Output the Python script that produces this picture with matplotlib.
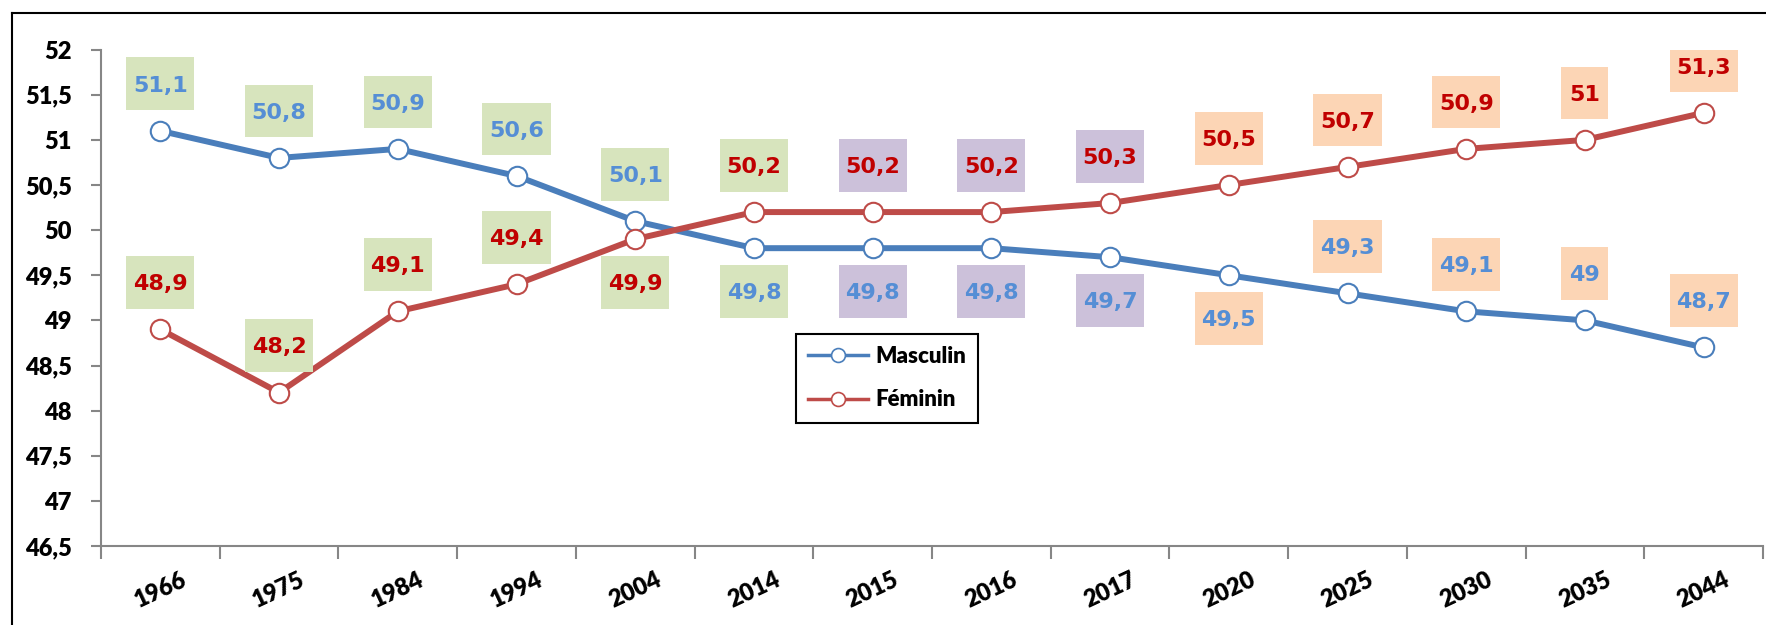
import numpy as np
import matplotlib
matplotlib.use("Agg")
import matplotlib.pyplot as plt
from matplotlib.patches import Rectangle
from matplotlib.lines import Line2D

# Data
years = ["1966", "1975", "1984", "1994", "2004", "2014", "2015",
         "2016", "2017", "2020", "2025", "2030", "2035", "2044"]
masculin = [51.1, 50.8, 50.9, 50.6, 50.1, 49.8, 49.8, 49.8, 49.7, 49.5, 49.3, 49.1, 49.0, 48.7]
feminin = [48.9, 48.2, 49.1, 49.4, 49.9, 50.2, 50.2, 50.2, 50.3, 50.5, 50.7, 50.9, 51.0, 51.3]

# Styling for the label boxes (period groups) and label placement (+1 above, -1 below)
box_colors = ["#D7E4BD"] * 6 + ["#CCC1DA"] * 3 + ["#FCD5B5"] * 5
masc_side = [1, 1, 1, 1, 1, -1, -1, -1, -1, -1, 1, 1, 1, 1]
fem_side = [1, 1, 1, 1, -1, 1, 1, 1, 1, 1, 1, 1, 1, 1]

BLUE = "#4A7EBB"
RED = "#BE4B48"
BLUE_TXT = "#558ED5"
RED_TXT = "#C00000"
TICK_FONT = "Lato"


def fmt(v):
    s = f"{v:g}"
    return s.replace(".", ",")


fig = plt.figure(figsize=(17.66, 6.25), dpi=100)
ax = fig.add_axes([0.0572, 0.1264, 0.9411, 0.7942])

x = np.arange(len(years))
ax.plot(x, masculin, color=BLUE, lw=4.3, marker="o", ms=14, mfc="white",
        mec=BLUE, mew=1.5, zorder=3, solid_capstyle="round")
ax.plot(x, feminin, color=RED, lw=4.3, marker="o", ms=14, mfc="white",
        mec=RED, mew=1.5, zorder=3, solid_capstyle="round")

# Data labels in coloured boxes
box_h = 0.586
for series, sides, tcol in [(masculin, masc_side, BLUE_TXT), (feminin, fem_side, RED_TXT)]:
    for i, (v, s) in enumerate(zip(series, sides)):
        label = fmt(v)
        w = 0.573 if "," in label else 0.396
        cy = v + (0.52 if s > 0 else -0.48)
        ax.add_patch(Rectangle((i - w / 2, cy - box_h / 2), w, box_h,
                               facecolor=box_colors[i], edgecolor="none", zorder=4))
        ax.text(i, cy - 0.02, label, ha="center", va="center", fontsize=16,
                fontweight="bold", color=tcol, family="DejaVu Sans", zorder=5)

ax.set_xlim(-0.5, len(years) - 0.5)
ax.set_ylim(46.5, 52)

yt = np.arange(46.5, 52.01, 0.5)
ax.set_yticks(yt)
ax.set_yticklabels([fmt(v) for v in yt], fontsize=17, fontweight="heavy", family=TICK_FONT)

ax.set_xticks(np.arange(len(years) + 1) - 0.5)
ax.set_xticklabels([])
ax.set_xticks(x, minor=True)
ax.set_xticklabels(years, minor=True, rotation=25, ha="center", fontsize=17,
                   fontweight="heavy", family=TICK_FONT)

ax.tick_params(axis="y", length=7, width=1.5, color="#868686", pad=14)
ax.tick_params(axis="x", which="major", length=9, width=1.5, color="#868686")
ax.tick_params(axis="x", which="minor", length=0, pad=16)

for side in ["top", "right"]:
    ax.spines[side].set_visible(False)
for side in ["left", "bottom"]:
    ax.spines[side].set_color("#868686")
    ax.spines[side].set_linewidth(1.5)

# Legend
handles = [
    Line2D([], [], color=BLUE, lw=2.5, marker="o", ms=10, mfc="white", mec=BLUE, mew=1.2),
    Line2D([], [], color=RED, lw=2.5, marker="o", ms=10, mfc="white", mec=RED, mew=1.2),
]
leg = fig.legend(handles, ["Masculin", "Féminin"], loc="upper left",
                 bbox_to_anchor=(796 / 1766, 1 - 334 / 625), borderaxespad=0,
                 fancybox=False, framealpha=1, edgecolor="black", handlelength=2.7,
                 borderpad=0.55, labelspacing=1.0, handletextpad=0.3,
                 prop={"family": TICK_FONT, "weight": "heavy", "size": 16})
leg.get_frame().set_linewidth(1.5)

# Outer chart frame (top and left edges visible)
fig.add_artist(Line2D([12 / 1766, 1.0], [1 - 13 / 625, 1 - 13 / 625],
                      transform=fig.transFigure, color="black", lw=1.5))
fig.add_artist(Line2D([12 / 1766, 12 / 1766], [0.0, 1 - 13 / 625],
                      transform=fig.transFigure, color="black", lw=1.5))

fig.savefig("out.png", dpi=100)
